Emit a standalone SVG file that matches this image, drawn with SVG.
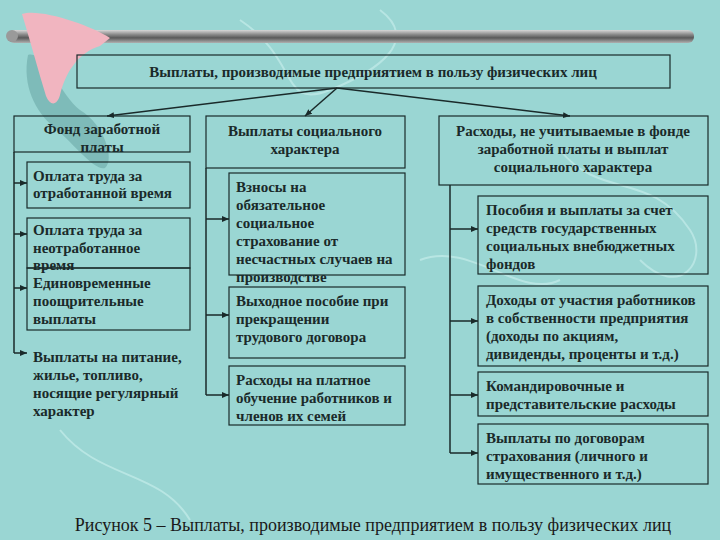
<svg xmlns="http://www.w3.org/2000/svg" width="720" height="540" viewBox="0 0 720 540">
<defs>
<linearGradient id="bar" x1="0" y1="0" x2="0" y2="1">
<stop offset="0" stop-color="#d8d8d8"/><stop offset="0.35" stop-color="#8a8a8a"/><stop offset="0.6" stop-color="#5a5a5a"/><stop offset="1" stop-color="#b0b0b0"/>
</linearGradient>
<marker id="ah" markerWidth="8" markerHeight="8" refX="7" refY="4" orient="auto" markerUnits="userSpaceOnUse">
<path d="M0,1 L7,4 L0,7 Z" fill="#1a2a2a"/>
</marker>
<style>
.b{fill:none;stroke:#1a2a2a;stroke-width:1.2}
.t{font-family:"Liberation Serif",serif;font-weight:bold;font-size:15px;fill:#1a2a2a}
.c{text-anchor:middle}
.l{stroke:#1a2a2a;stroke-width:1.5;fill:none}
</style>
</defs>
<rect width="720" height="540" fill="#9ad6d3"/>
<g fill="none" stroke="#c4ecea" stroke-width="2" opacity="0.7">
<path d="M240,20 C300,60 280,110 330,90 C380,70 420,40 380,10"/>
<path d="M560,150 C600,200 650,170 690,230 C710,260 680,300 640,260"/>
<path d="M60,430 C100,480 160,470 190,520"/>
<path d="M420,260 C470,240 520,300 560,280"/>
</g>
<path d="M28,55 C45,50 60,95 80,110 C105,125 115,160 105,168 C95,172 70,140 55,128 C35,112 22,85 28,55 Z" fill="#5e9c9a" opacity="0.45"/>
<rect x="8" y="30" width="686" height="13" rx="6" fill="url(#bar)"/>
<circle cx="12" cy="36" r="6" fill="#9a9a9a"/>
<path d="M22,14 C40,8 90,25 110,38 L100,46 C80,52 66,70 60,95 C57,106 50,106 46,96 C38,70 30,40 22,14 Z" fill="#f1b5c0"/>
<g id="top"><rect class="b" x="77" y="55" width="593" height="33"/>
<text class="t c" x="373" y="77">Выплаты, производимые предприятием в пользу физических лиц</text></g>
<g id="connectors">
<line class="l" x1="337" y1="88" x2="107" y2="116" marker-end="url(#ah)"/>
<line class="l" x1="337" y1="88" x2="305" y2="116" marker-end="url(#ah)"/>
<line class="l" x1="337" y1="88" x2="570" y2="116" marker-end="url(#ah)"/>
<polyline class="l" points="14,152 14,353"/>
<line class="l" x1="14" y1="183" x2="27" y2="183" marker-end="url(#ah)"/>
<line class="l" x1="14" y1="234" x2="27" y2="234" marker-end="url(#ah)"/>
<line class="l" x1="14" y1="288" x2="27" y2="288" marker-end="url(#ah)"/>
<line class="l" x1="14" y1="353" x2="27" y2="353" marker-end="url(#ah)"/>
<polyline class="l" points="206,168 206,395"/>
<line class="l" x1="206" y1="219" x2="229" y2="219" marker-end="url(#ah)"/>
<line class="l" x1="206" y1="315" x2="229" y2="315" marker-end="url(#ah)"/>
<line class="l" x1="206" y1="395" x2="229" y2="395" marker-end="url(#ah)"/>
<polyline class="l" points="450,185 450,453"/>
<line class="l" x1="450" y1="229" x2="478" y2="229" marker-end="url(#ah)"/>
<line class="l" x1="450" y1="321" x2="478" y2="321" marker-end="url(#ah)"/>
<line class="l" x1="450" y1="395" x2="478" y2="395" marker-end="url(#ah)"/>
<line class="l" x1="450" y1="453" x2="478" y2="453" marker-end="url(#ah)"/>
</g>
<g id="l0"><rect class="b" x="14" y="116" width="176" height="36"/>
<text class="t c" x="102" y="134">Фонд заработной</text><text class="t c" x="102" y="152">платы</text></g>
<g id="l1"><rect class="b" x="27" y="162" width="163" height="46"/>
<text class="t" x="33" y="181">Оплата труда за</text><text class="t" x="33" y="198">отработанной время</text></g>
<g id="l2"><rect class="b" x="27" y="218" width="163" height="50"/>
<text class="t" x="33" y="235">Оплата труда за</text><text class="t" x="33" y="253">неотработанное</text><text class="t" x="33" y="270">время</text></g>
<g id="l3"><rect class="b" x="27" y="268" width="163" height="62"/>
<text class="t" x="33" y="288">Единовременные</text><text class="t" x="33" y="306">поощрительные</text><text class="t" x="33" y="324">выплаты</text></g>
<g id="l4">
<text class="t" x="33" y="362">Выплаты на питание,</text><text class="t" x="33" y="380">жилье, топливо,</text><text class="t" x="33" y="398">носящие регулярный</text><text class="t" x="33" y="416">характер</text></g>
<g id="m0"><rect class="b" x="206" y="116" width="199" height="52"/>
<text class="t c" x="305" y="136">Выплаты социального</text><text class="t c" x="305" y="154">характера</text></g>
<g id="m1"><rect class="b" x="229" y="173" width="176" height="102"/>
<text class="t" x="236" y="192">Взносы на</text><text class="t" x="236" y="210">обязательное</text><text class="t" x="236" y="228">социальное</text><text class="t" x="236" y="246">страхование от</text><text class="t" x="236" y="264">несчастных случаев на</text><text class="t" x="236" y="282">производстве</text></g>
<g id="m2"><rect class="b" x="229" y="287" width="176" height="71"/>
<text class="t" x="236" y="306">Выходное пособие при</text><text class="t" x="236" y="324">прекращении</text><text class="t" x="236" y="342">трудового договора</text></g>
<g id="m3"><rect class="b" x="229" y="366" width="176" height="59"/>
<text class="t" x="236" y="385">Расходы на платное</text><text class="t" x="236" y="403">обучение работников и</text><text class="t" x="236" y="421">членов их семей</text></g>
<g id="r0"><rect class="b" x="439" y="116" width="269" height="69"/>
<text class="t c" x="573" y="136">Расходы, не учитываемые в фонде</text><text class="t c" x="573" y="154">заработной платы и выплат</text><text class="t c" x="573" y="172">социального характера</text></g>
<g id="r1"><rect class="b" x="478" y="196" width="230" height="78"/>
<text class="t" x="486" y="215">Пособия и выплаты за счет</text><text class="t" x="486" y="233">средств государственных</text><text class="t" x="486" y="251">социальных внебюджетных</text><text class="t" x="486" y="269">фондов</text></g>
<g id="r2"><rect class="b" x="478" y="286" width="230" height="80"/>
<text class="t" x="486" y="305">Доходы от участия работников</text><text class="t" x="486" y="323">в собственности предприятия</text><text class="t" x="486" y="341">(доходы по акциям,</text><text class="t" x="486" y="359">дивиденды, проценты и т.д.)</text></g>
<g id="r3"><rect class="b" x="478" y="372" width="230" height="44"/>
<text class="t" x="486" y="391">Командировочные и</text><text class="t" x="486" y="409">представительские расходы</text></g>
<g id="r4"><rect class="b" x="478" y="424" width="230" height="60"/>
<text class="t" x="486" y="443">Выплаты по договорам</text><text class="t" x="486" y="461">страхования (личного и</text><text class="t" x="486" y="479">имущественного и т.д.)</text></g>
<text x="373" y="531" text-anchor="middle" font-family="Liberation Serif,serif" font-size="18" fill="#1a1a1a">Рисунок 5 – Выплаты, производимые предприятием в пользу физических лиц</text>
</svg>
